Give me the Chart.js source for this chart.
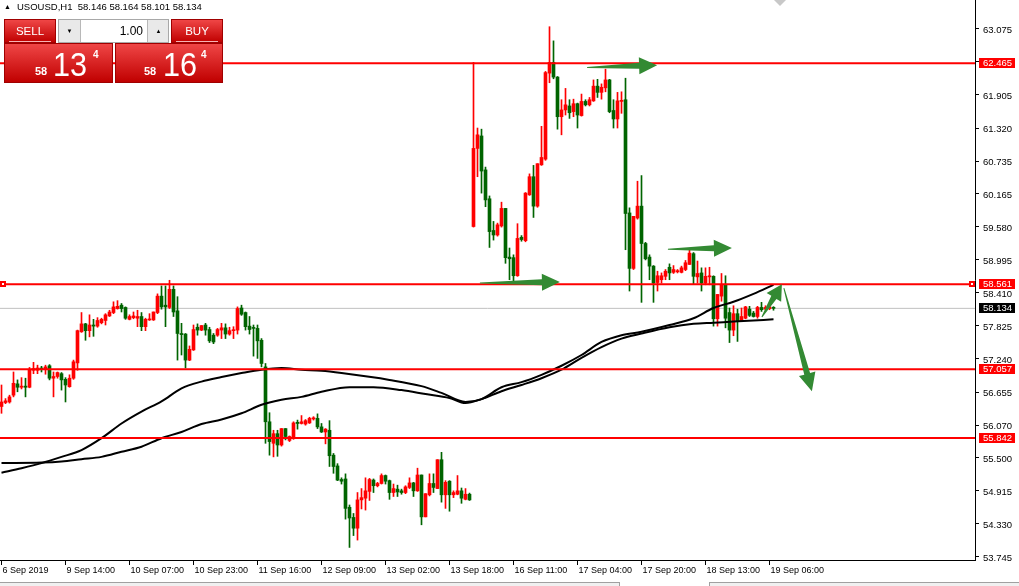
<!DOCTYPE html>
<html>
<head>
<meta charset="utf-8">
<script src="https://cdn.jsdelivr.net/npm/chart.js@4.4.1/dist/chart.umd.min.js"></script>
<style>
html,body{margin:0;padding:0;background:#fff;overflow:hidden}
#wrap{position:relative;width:1019px;height:586px;font-family:'Liberation Sans',Arial,sans-serif}
#chart{position:absolute;left:0;top:0}
#hdr{position:absolute;left:17px;top:2px;font-size:9.5px;line-height:1;color:#000;white-space:pre}
#tri{position:absolute;left:4px;top:3px;font-size:7px;line-height:1;color:#000}
.red{position:absolute;box-sizing:border-box;border:1px solid #a00000;background:linear-gradient(#ef4646,#c00000);color:#fff}
.btn{height:24px;width:52px;top:19px;text-align:center;font-size:11.5px;line-height:22px}
.btn:after{content:'';position:absolute;left:4px;right:4px;bottom:0;height:1px;background:#f6b4b4}
#sell{left:4px}
#buy{left:171px}
#lot{position:absolute;left:58px;top:19px;width:111px;height:24px;box-sizing:border-box;border:1px solid #a8a8a8;background:#e9e9e9}
#lot .fld{position:absolute;left:21px;top:0;width:68px;height:22px;background:#fff;border-left:1px solid #b8b8b8;border-right:1px solid #b8b8b8;text-align:right;font-size:12px;line-height:23px;color:#000;box-sizing:border-box;padding-right:4px}
#lot .ar{position:absolute;top:0;width:21px;height:22px;text-align:center;font-size:6px;line-height:22px;color:#000}
.px{top:43px;height:40px}
#sellPx{left:4px;width:109px}
#buyPx{left:115px;width:108px}
.px span{position:absolute;line-height:1;white-space:pre}
.sm{font-size:11px;font-weight:bold;top:22px}
.big{font-size:34px;top:3px;transform:scaleX(0.9);transform-origin:left top}
.sup{font-size:10px;font-weight:bold;top:6px}
#shift{position:absolute;left:774px;top:0;width:0;height:0;border-left:6px solid transparent;border-right:6px solid transparent;border-top:6px solid #c8c8c8}
#tabs{position:absolute;left:0;top:582px;width:1019px;height:4px;background:#f0f0f0;border-top:1px solid #a0a0a0}
#tab{position:absolute;left:619px;top:582px;width:89px;height:4px;background:#fff;border-left:1px solid #a0a0a0;border-right:1px solid #a0a0a0}
</style>
</head>
<body>
<div id="wrap">
  <canvas id="chart" width="1019" height="586"></canvas>
  <div id="tri">▲</div>
  <div id="hdr"></div>
  <div id="sell" class="red btn">SELL</div>
  <div id="lot"><div class="ar" style="left:0">▼</div><div class="fld">1.00</div><div class="ar" style="left:89px">▲</div></div>
  <div id="buy" class="red btn">BUY</div>
  <div id="sellPx" class="red px"><span class="sm" style="left:30px"></span><span class="big" style="left:48px"></span><span class="sup" style="left:88px"></span></div>
  <div id="buyPx" class="red px"><span class="sm" style="left:28px"></span><span class="big" style="left:47px"></span><span class="sup" style="left:85px"></span></div>
  <div id="shift"></div>
  <div id="tabs"></div>
  <div id="tab"></div>
</div>
<script>
// --- USOUSD H1, one candle per hour, bar 0 = 6 Sep 2019 ---
var symbol='USOUSD,H1';
var bid=58.134, ask=58.164;

var opens=[
56.40,56.47,56.48,56.60,56.80,56.74,56.76,56.74,57.04,57.04,
57.08,57.06,57.12,56.90,56.93,56.98,56.88,56.75,56.90,57.17,
57.72,57.86,57.74,57.84,57.82,57.88,57.92,58.00,58.06,58.13,
58.19,58.15,57.94,57.97,57.96,57.99,57.81,57.93,57.93,58.06,
58.35,58.19,58.15,58.47,58.09,57.69,57.68,57.22,57.40,57.80,
57.75,57.84,57.76,57.66,57.66,57.75,57.79,57.68,57.74,57.75,
58.14,58.06,57.82,57.79,57.78,57.57,57.10,56.13,55.75,55.92,
55.72,56.01,55.80,55.84,56.12,56.10,56.09,56.11,56.18,56.19,
56.04,55.95,55.98,55.54,55.35,55.11,55.12,54.62,54.44,54.25,
54.75,54.78,54.90,55.10,55.00,55.04,55.18,55.09,54.88,54.94,
54.91,54.88,54.97,55.05,54.91,55.19,54.45,54.84,55.04,54.95,
55.46,54.84,55.08,54.84,54.85,54.91,54.76,54.85,59.58,60.96,
61.18,60.58,60.07,59.51,59.43,59.59,59.90,59.04,59.03,58.71,
59.39,59.33,60.14,60.46,59.94,60.67,60.77,62.29,62.48,62.22,
61.52,61.64,61.71,61.61,61.75,61.54,61.79,61.73,61.80,62.06,
61.95,62.03,62.17,61.63,61.48,61.79,61.82,59.82,58.84,59.73,
59.94,59.28,59.04,58.88,58.59,58.64,58.70,58.86,58.77,58.78,
58.77,58.82,58.91,59.10,58.69,58.76,58.58,58.69,58.70,57.95,
58.35,58.55,58.06,57.75,58.04,57.91,57.96,58.12,58.05,57.99,
58.15,58.12,58.13,58.146];
var highs=[
56.78,56.54,56.60,57.01,56.87,56.91,56.90,57.09,57.18,57.13,
57.11,57.13,57.14,57.01,57.01,57.00,56.91,56.96,57.22,57.75,
58.06,57.87,58.02,57.94,57.97,57.96,58.04,58.10,58.25,58.27,
58.22,58.16,58.02,58.07,58.10,58.06,57.96,58.04,58.07,58.39,
58.53,58.53,58.63,58.53,58.34,57.87,57.69,57.47,57.84,57.86,
57.83,57.87,57.80,57.69,57.78,57.87,57.86,57.80,57.81,58.16,
58.19,58.07,57.99,57.84,57.84,57.60,57.16,56.29,55.98,55.98,
56.01,56.01,55.88,56.13,56.16,56.24,56.17,56.21,56.22,56.27,
56.10,56.01,56.15,55.57,55.39,55.14,55.21,54.66,54.51,54.88,
54.95,55.14,55.13,55.12,55.06,55.21,55.19,55.10,55.03,55.01,
54.94,55.00,55.14,55.06,55.31,55.19,54.86,55.21,55.21,55.46,
55.59,55.09,55.09,54.91,55.18,54.96,54.95,54.87,62.48,61.32,
61.30,60.63,60.12,59.67,59.64,60.01,59.90,59.20,59.08,59.63,
59.42,60.18,60.51,60.66,60.69,61.35,62.32,63.11,62.86,62.23,
61.82,62.02,61.82,61.83,61.76,61.92,61.82,61.86,62.17,62.18,
62.10,62.36,62.18,61.82,61.95,61.96,62.20,59.91,59.76,60.38,
60.48,59.30,59.08,58.89,58.79,58.76,58.82,58.92,58.89,58.82,
58.88,58.98,59.19,59.12,58.97,58.85,58.85,58.86,58.71,58.38,
58.75,58.71,58.14,58.18,58.12,58.14,58.17,58.17,58.08,58.17,
58.24,58.18,58.17,58.164];
var lows=[
56.28,56.45,56.46,56.57,56.66,56.71,56.57,56.73,56.98,56.98,
57.01,56.97,56.87,56.57,56.90,56.69,56.48,56.74,56.88,57.04,
57.71,57.57,57.63,57.64,57.80,57.86,57.84,57.99,58.04,58.12,
58.07,57.94,57.93,57.95,57.81,57.74,57.74,57.92,57.92,58.04,
58.12,57.81,58.13,57.99,57.22,57.31,57.08,57.21,57.39,57.66,
57.74,57.66,57.53,57.51,57.64,57.60,57.60,57.66,57.60,57.68,
58.01,57.75,57.68,57.29,57.25,57.10,55.75,55.54,55.51,55.52,
55.70,55.81,55.78,55.82,56.00,56.09,56.07,56.10,56.16,56.01,
55.94,55.74,55.34,55.22,55.09,55.03,54.41,53.91,54.12,54.04,
54.59,54.57,54.74,54.88,54.98,55.03,55.03,54.76,54.81,54.81,
54.85,54.86,54.95,54.81,54.90,54.31,54.45,54.82,54.88,54.95,
54.71,54.60,54.55,54.79,54.84,54.69,54.75,54.74,59.57,60.46,
60.17,59.93,59.21,59.34,59.41,59.57,58.93,58.64,58.62,58.70,
59.32,59.31,60.13,59.74,59.92,60.66,60.75,62.12,62.19,61.30,
61.20,61.55,61.49,61.52,61.32,61.53,61.71,61.71,61.79,61.86,
61.83,61.96,61.59,61.32,61.32,61.58,59.17,58.44,58.82,59.71,
58.24,58.99,58.64,58.24,58.44,58.58,58.64,58.64,58.75,58.76,
58.76,58.80,58.91,58.57,58.58,58.44,58.55,58.55,57.82,57.82,
58.26,57.79,57.53,57.65,57.55,57.90,57.95,57.99,57.98,57.96,
58.08,58.11,58.11,58.101];
var closes=[
56.48,56.50,56.57,56.81,56.74,56.76,56.74,57.04,57.07,57.08,
57.06,57.10,56.90,56.93,57.00,56.87,56.78,56.90,57.19,57.74,
57.86,57.74,57.84,57.82,57.92,57.94,58.02,58.07,58.16,58.17,
58.13,57.96,57.99,58.00,57.99,57.81,57.94,57.94,58.07,58.35,
58.16,58.16,58.47,58.07,57.69,57.67,57.22,57.41,57.76,57.75,
57.83,57.75,57.56,57.54,57.76,57.79,57.68,57.74,57.75,58.13,
58.03,57.81,57.76,57.78,57.56,57.16,56.13,55.78,55.92,55.72,
56.01,55.87,55.87,56.11,56.10,56.13,56.15,56.19,56.20,56.04,
55.95,56.00,55.53,55.34,55.10,55.08,54.60,54.43,54.25,54.75,
54.79,54.91,55.11,55.00,55.04,55.18,55.08,54.88,54.95,54.89,
54.88,54.98,55.05,54.91,55.19,54.45,54.86,55.04,54.97,55.46,
54.84,55.06,54.84,54.88,54.91,54.78,54.85,54.75,60.96,61.20,
60.56,60.05,59.49,59.43,59.61,59.90,59.03,59.01,58.71,59.37,
59.35,60.17,60.46,59.94,60.69,60.80,62.30,62.48,62.22,61.52,
61.64,61.73,61.59,61.75,61.55,61.79,61.73,61.82,62.06,61.95,
62.04,62.17,61.61,61.48,61.80,61.81,59.81,58.84,59.76,59.94,
59.28,59.01,58.88,58.58,58.71,58.71,58.79,58.76,58.82,58.80,
58.85,58.94,59.11,58.70,58.75,58.58,58.70,58.71,57.95,58.38,
58.55,57.96,57.75,58.04,57.91,57.99,58.16,58.01,57.99,58.15,
58.11,58.15,58.16,58.134];

// moving averages at these bars
var maFastBars=[0,5,10,15,20,25,30,35,40,45,50,55,60,65,70,75,80,85,97,105,110,116,120,125,130,135,140,145,150,155,160,167,173,178,183,188,193];
var maFastVals=[55.23,55.31,55.40,55.51,55.63,55.84,56.10,56.31,56.49,56.72,56.84,56.92,56.99,57.05,57.08,57.05,57.03,56.99,56.87,56.76,56.64,56.48,56.53,56.74,56.83,56.96,57.12,57.31,57.54,57.66,57.72,57.84,57.96,58.14,58.25,58.39,58.55];
var maSlowBars=[0,10,15,20,25,30,35,40,45,50,55,60,65,70,75,80,87,93,100,106,112,116,120,125,130,135,140,145,150,155,160,167,173,178,183,188,193];
var maSlowVals=[55.40,55.41,55.43,55.47,55.51,55.60,55.69,55.84,55.95,56.09,56.17,56.28,56.43,56.52,56.57,56.66,56.74,56.74,56.69,56.62,56.55,56.46,56.53,56.67,56.78,56.90,57.05,57.26,57.45,57.60,57.69,57.80,57.86,57.88,57.90,57.92,57.94];

// horizontal lines drawn by hand on the chart
var levels=[62.465,58.561,57.057,55.842];

// arrows: [fromBar, fromPrice, toBar, toPrice]
var arrows=[
  [146.4,62.39,163.9,62.43],
  [119.6,58.58,139.6,58.60],
  [166.6,59.18,182.6,59.20],
  [190.1,57.98,195.1,58.56],
  [195.6,58.49,202.6,56.67]
];

var xTickBars=[0,16,32,48,64,80,96,112,128,144,160,176,192];
var xTickText=['6 Sep 2019','9 Sep 14:00','10 Sep 07:00','10 Sep 23:00','11 Sep 16:00','12 Sep 09:00','13 Sep 02:00','13 Sep 18:00','16 Sep 11:00','17 Sep 04:00','17 Sep 20:00','18 Sep 13:00','19 Sep 06:00'];
var yTicks=[63.075,62.490,61.905,61.320,60.735,60.165,59.580,58.995,58.410,57.825,57.240,56.655,56.070,55.500,54.915,54.330,53.745];

// visible window
var xMin=-0.375,xMax=243.375,yMin=53.688,yMax=63.582;

var FONT='"Liberation Sans", Arial, sans-serif';
var BULL='#ff0000',BEAR='#006400';

// header + trade panel
var n=closes.length-1;
document.getElementById('hdr').textContent=symbol+'  '+[opens[n],highs[n],lows[n],closes[n]].map(function(v){return v.toFixed(3);}).join(' ');
function fillPx(id,p){
  var s=p.toFixed(3),sp=document.getElementById(id).getElementsByTagName('span');
  sp[0].textContent=s.slice(0,2);sp[1].textContent=s.slice(3,5);sp[2].textContent=s.slice(5);
}
fillPx('sellPx',bid);fillPx('buyPx',ask);

var idx=opens.map(function(_,i){return i;});
var cols=idx.map(function(i){return closes[i]>opens[i]?BULL:BEAR;});
var wicks=idx.map(function(i){return {x:i,y:[lows[i],highs[i]]};});
var bodies=idx.map(function(i){return {x:i,y:[opens[i],closes[i]]};});

var datasets=[];
levels.forEach(function(v){
  datasets.push({type:'line',data:[{x:xMin,y:v},{x:xMax,y:v}],borderColor:'#ff0000',borderWidth:2,pointRadius:0,order:1});
});
datasets.push({type:'line',data:maFastBars.map(function(b,k){return {x:b,y:maFastVals[k]};}),borderColor:'#000',borderWidth:2,pointRadius:0,cubicInterpolationMode:'monotone',order:2});
datasets.push({type:'line',data:maSlowBars.map(function(b,k){return {x:b,y:maSlowVals[k]};}),borderColor:'#000',borderWidth:2,pointRadius:0,cubicInterpolationMode:'monotone',order:2});
datasets.push({type:'bar',data:bodies,backgroundColor:cols,borderWidth:0,grouped:false,barPercentage:1,categoryPercentage:1,maxBarThickness:3,minBarLength:1,order:3});
datasets.push({type:'bar',data:wicks,backgroundColor:cols,borderWidth:0,grouped:false,barPercentage:1,categoryPercentage:1,maxBarThickness:1,order:4});
datasets.push({type:'line',data:[{x:xMin,y:bid},{x:xMax,y:bid}],borderColor:'#c0c0c0',borderWidth:1,pointRadius:0,order:5});

function drawArrow(ctx,x0,y0,x1,y1){
  var dx=x1-x0,dy=y1-y0,len=Math.sqrt(dx*dx+dy*dy);
  var ux=dx/len,uy=dy/len,nx=-uy,ny=ux;
  var hl=Math.min(18,len*0.4),hw=8.5,bw=6,tw=1;
  var bx=x1-ux*hl,by=y1-uy*hl;
  ctx.beginPath();
  ctx.moveTo(x0+nx*tw/2,y0+ny*tw/2);
  ctx.lineTo(bx+nx*bw/2,by+ny*bw/2);
  ctx.lineTo(bx+nx*hw,by+ny*hw);
  ctx.lineTo(x1,y1);
  ctx.lineTo(bx-nx*hw,by-ny*hw);
  ctx.lineTo(bx-nx*bw/2,by-ny*bw/2);
  ctx.lineTo(x0-nx*tw/2,y0-ny*tw/2);
  ctx.closePath();
  ctx.fill();
}

var overlay={
  id:'overlay',
  afterDatasetsDraw:function(chart){
    var ctx=chart.ctx,x=chart.scales.x,y=chart.scales.y;
    ctx.save();
    ctx.fillStyle='#338a33';
    arrows.forEach(function(a){
      drawArrow(ctx,x.getPixelForValue(a[0]),y.getPixelForValue(a[1]),x.getPixelForValue(a[2]),y.getPixelForValue(a[3]));
    });
    ctx.restore();
  },
  afterDraw:function(chart){
    var ctx=chart.ctx,a=chart.chartArea,y=chart.scales.y;
    ctx.save();
    ctx.font='9.5px '+FONT;
    ctx.textBaseline='middle';
    function box(v,bg){
      var py=Math.round(y.getPixelForValue(v));
      ctx.fillStyle=bg;ctx.fillRect(a.right+4,py-5,36,10);
      ctx.fillStyle='#fff';ctx.fillText(v.toFixed(3),a.right+8,py+0.5);
    }
    levels.forEach(function(v){box(v,'#ff0000');});
    box(bid,'#000');
    // selection handles of the middle line
    var py=Math.round(y.getPixelForValue(levels[1]));
    [a.left,a.right-6].forEach(function(hx){
      ctx.fillStyle='#ff0000';ctx.fillRect(hx,py-3,6,6);
      ctx.fillStyle='#fff';ctx.fillRect(hx+2,py-1,2,2);
    });
    ctx.restore();
  }
};

new Chart(document.getElementById('chart'),{
  type:'bar',
  data:{datasets:datasets},
  plugins:[overlay],
  options:{
    responsive:false,animation:false,devicePixelRatio:1,
    layout:{padding:0},
    plugins:{legend:{display:false},tooltip:{enabled:false}},
    scales:{
      x:{
        type:'linear',min:xMin,max:xMax,offset:false,
        afterBuildTicks:function(s){s.ticks=xTickBars.map(function(v){return {value:v};});},
        afterFit:function(s){s.height=26;s.paddingLeft=0;s.paddingRight=0;},
        ticks:{autoSkip:false,maxRotation:0,minRotation:0,align:'start',labelOffset:1,padding:0,color:'#000',font:{family:FONT,size:9},
          callback:function(v){var k=xTickBars.indexOf(v);return k<0?'':xTickText[k];}},
        grid:{drawOnChartArea:false,offset:false,tickLength:5,color:'#000'},
        border:{color:'#000'}
      },
      y:{
        type:'linear',position:'right',min:yMin,max:yMax,
        afterBuildTicks:function(s){s.ticks=yTicks.map(function(v){return {value:v};});},
        afterFit:function(s){s.width=44;s.paddingTop=0;s.paddingBottom=0;},
        ticks:{autoSkip:false,padding:4,labelOffset:1.5,color:'#000',font:{family:FONT,size:9.5},
          callback:function(v){return v.toFixed(3);}},
        grid:{drawOnChartArea:false,tickLength:4,color:'#000'},
        border:{color:'#000'}
      }
    }
  }
});
</script>
</body>
</html>
